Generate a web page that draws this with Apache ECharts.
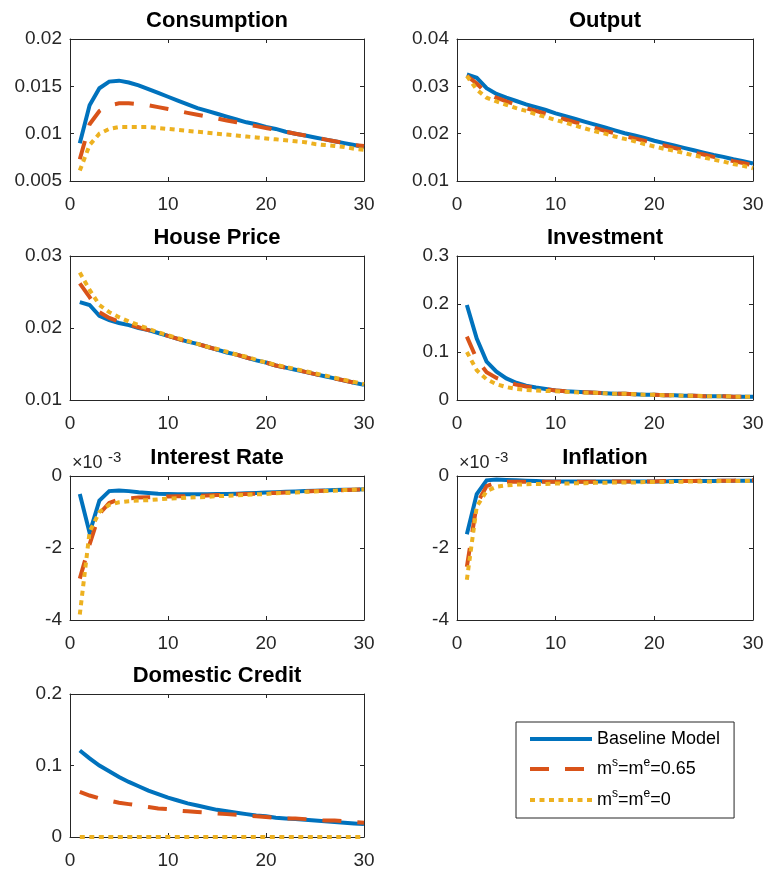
<!DOCTYPE html>
<html>
<head>
<meta charset="utf-8">
<script src="https://cdn.jsdelivr.net/npm/echarts@6/dist/echarts.min.js"></script>
<style>
html,body{margin:0;padding:0;background:#fff;}
#chart{width:767px;height:875px;}
</style>
</head>
<body>
<div id="chart"></div>
<script>
// ---------------- DATA ----------------
const periods = [1,2,3,4,5,6,7,8,9,10,11,12,13,14,15,16,17,18,19,20,21,22,23,24,25,26,27,28,29,30];
const seriesNames = ['Baseline Model', 'ms=me=0.65', 'ms=me=0'];

const consBase = [0.0090,0.0130,0.0148,0.0155,0.0156,0.0154,0.0151,0.0147,0.0143,0.0139,0.0135,0.0131,0.0127,0.0124,0.0121,0.0118,0.0115,0.0112,0.0110,0.0107,0.0105,0.0102,0.0100,0.0098,0.0096,0.0094,0.0092,0.0090,0.0088,0.0086];
const consM65  = [0.0073,0.0110,0.0124,0.0130,0.0132,0.0132,0.0131,0.0130,0.0128,0.0126,0.0124,0.0122,0.0120,0.0118,0.0116,0.0114,0.0112,0.0110,0.0108,0.0106,0.0104,0.0102,0.0100,0.0098,0.0096,0.0094,0.0092,0.0090,0.0088,0.0087];
const consM0   = [0.0061,0.0088,0.0100,0.0105,0.0107,0.0107,0.0107,0.0107,0.0106,0.0105,0.0104,0.0103,0.0102,0.0101,0.0100,0.0099,0.0098,0.0097,0.0096,0.0095,0.0094,0.0093,0.0092,0.0091,0.0089,0.0088,0.0087,0.0086,0.0084,0.0083];

const outBase = [0.0325,0.0318,0.0296,0.0284,0.0276,0.0269,0.0262,0.0256,0.0250,0.0243,0.0237,0.0231,0.0225,0.0219,0.0213,0.0207,0.0201,0.0196,0.0191,0.0185,0.0180,0.0175,0.0170,0.0165,0.0160,0.0155,0.0151,0.0146,0.0142,0.0137];
const outM65  = [0.0322,0.0306,0.0285,0.0276,0.0268,0.0261,0.0254,0.0248,0.0242,0.0236,0.0230,0.0224,0.0218,0.0212,0.0206,0.0201,0.0195,0.0190,0.0185,0.0180,0.0175,0.0170,0.0165,0.0160,0.0156,0.0151,0.0147,0.0142,0.0138,0.0133];
const outM0   = [0.0322,0.0293,0.0276,0.0268,0.0261,0.0254,0.0248,0.0241,0.0235,0.0229,0.0223,0.0217,0.0211,0.0205,0.0200,0.0194,0.0189,0.0184,0.0178,0.0173,0.0168,0.0164,0.0159,0.0154,0.0150,0.0145,0.0141,0.0136,0.0132,0.0127];

const houseBase = [0.0236,0.0232,0.0217,0.0211,0.0207,0.0204,0.0200,0.0197,0.0193,0.0189,0.0185,0.0181,0.0178,0.0174,0.0170,0.0166,0.0163,0.0159,0.0155,0.0152,0.0148,0.0145,0.0142,0.0139,0.0136,0.0133,0.0130,0.0127,0.0124,0.0121];
const houseM65  = [0.0262,0.0243,0.0222,0.0214,0.0209,0.0205,0.0201,0.0197,0.0193,0.0189,0.0185,0.0181,0.0178,0.0174,0.0170,0.0166,0.0163,0.0159,0.0155,0.0152,0.0148,0.0145,0.0142,0.0139,0.0136,0.0133,0.0130,0.0127,0.0124,0.0121];
const houseM0   = [0.0277,0.0253,0.0232,0.0222,0.0215,0.0209,0.0204,0.0199,0.0194,0.0190,0.0186,0.0182,0.0178,0.0174,0.0171,0.0167,0.0163,0.0160,0.0156,0.0152,0.0149,0.0146,0.0143,0.0140,0.0137,0.0134,0.0131,0.0128,0.0125,0.0122];

const invBase = [0.198,0.128,0.080,0.059,0.045,0.036,0.030,0.026,0.023,0.020,0.018,0.017,0.016,0.015,0.014,0.013,0.013,0.012,0.011,0.011,0.010,0.010,0.009,0.009,0.008,0.008,0.008,0.007,0.007,0.007];
const invM65  = [0.132,0.085,0.058,0.046,0.038,0.032,0.028,0.025,0.022,0.020,0.018,0.017,0.016,0.015,0.014,0.013,0.013,0.012,0.011,0.011,0.010,0.010,0.009,0.009,0.008,0.008,0.008,0.007,0.007,0.007];
const invM0   = [0.100,0.062,0.043,0.033,0.027,0.023,0.021,0.020,0.019,0.018,0.017,0.016,0.015,0.015,0.014,0.013,0.013,0.012,0.011,0.011,0.010,0.010,0.009,0.009,0.008,0.008,0.008,0.007,0.007,0.007];

// interest rate and inflation in units of 10^-3
const rateBase = [-0.50,-1.58,-0.68,-0.42,-0.40,-0.42,-0.45,-0.47,-0.49,-0.50,-0.51,-0.51,-0.51,-0.51,-0.50,-0.50,-0.49,-0.48,-0.47,-0.46,-0.45,-0.44,-0.43,-0.42,-0.41,-0.40,-0.39,-0.38,-0.38,-0.37];
const rateM65  = [-2.85,-1.90,-1.05,-0.75,-0.65,-0.62,-0.60,-0.59,-0.58,-0.57,-0.56,-0.56,-0.55,-0.54,-0.53,-0.52,-0.51,-0.50,-0.49,-0.48,-0.47,-0.46,-0.45,-0.43,-0.42,-0.41,-0.40,-0.39,-0.38,-0.37];
const rateM0   = [-3.85,-1.55,-1.00,-0.80,-0.73,-0.70,-0.68,-0.67,-0.65,-0.63,-0.62,-0.60,-0.59,-0.58,-0.56,-0.55,-0.54,-0.52,-0.51,-0.50,-0.48,-0.47,-0.46,-0.44,-0.43,-0.42,-0.41,-0.39,-0.38,-0.37];

const inflBase = [-1.62,-0.50,-0.12,-0.10,-0.11,-0.12,-0.13,-0.14,-0.15,-0.15,-0.15,-0.15,-0.15,-0.15,-0.15,-0.15,-0.15,-0.15,-0.15,-0.15,-0.15,-0.14,-0.14,-0.14,-0.14,-0.14,-0.13,-0.13,-0.13,-0.13];
const inflM65  = [-2.52,-0.78,-0.28,-0.18,-0.16,-0.16,-0.16,-0.16,-0.16,-0.16,-0.16,-0.16,-0.16,-0.16,-0.15,-0.15,-0.15,-0.15,-0.15,-0.15,-0.14,-0.14,-0.14,-0.14,-0.13,-0.13,-0.13,-0.13,-0.12,-0.12];
const inflM0   = [-2.88,-0.85,-0.42,-0.30,-0.26,-0.24,-0.23,-0.22,-0.22,-0.21,-0.21,-0.20,-0.20,-0.19,-0.19,-0.18,-0.18,-0.18,-0.17,-0.17,-0.17,-0.16,-0.16,-0.15,-0.15,-0.15,-0.14,-0.14,-0.14,-0.13];

const creditBase = [0.121,0.110,0.100,0.092,0.084,0.077,0.071,0.065,0.060,0.055,0.051,0.047,0.044,0.041,0.038,0.036,0.034,0.032,0.030,0.029,0.027,0.026,0.025,0.024,0.023,0.022,0.021,0.020,0.019,0.018];
const creditM65  = [0.063,0.058,0.054,0.051,0.048,0.046,0.044,0.042,0.040,0.039,0.037,0.036,0.035,0.034,0.033,0.032,0.031,0.030,0.029,0.028,0.027,0.026,0.026,0.025,0.024,0.023,0.023,0.022,0.021,0.020];
const creditM0   = [0,0,0,0,0,0,0,0,0,0,0,0,0,0,0,0,0,0,0,0,0,0,0,0,0,0,0,0,0,0];

const panelTitles = ['Consumption','Output','House Price','Investment','Interest Rate','Inflation','Domestic Credit'];
const panelSeries = [
  [consBase, consM65, consM0],
  [outBase, outM65, outM0],
  [houseBase, houseM65, houseM0],
  [invBase, invM65, invM0],
  [rateBase, rateM65, rateM0],
  [inflBase, inflM65, inflM0],
  [creditBase, creditM65, creditM0]
];
const yMin = [0.005, 0.01, 0.01, 0, -4, -4, 0];
const yMax = [0.02, 0.04, 0.03, 0.3, 0, 0, 0.2];
const yStep = [0.005, 0.01, 0.01, 0.1, 2, 2, 0.1];
const xMin = 0, xMax = 30, xStep = 10;

// ---------------- LAYOUT / STYLE ----------------
const FONT = "'Liberation Sans', Arial, Helvetica, sans-serif";
const AX = '#262626';
const colors = ['#0072BD', '#D95319', '#EDB120'];
const lineTypes = ['solid', [19, 16], [5, 4.5]];
const colLeft = [70, 457], colWidth = [294, 296];
const rowTop = [39, 256, 476, 694], rowHeight = [142, 144, 144, 143];

const grids = [], xAxes = [], yAxes = [], series = [], titles = [], graphics = [];
panelTitles.forEach((t, i) => {
  const c = i % 2, r = Math.floor(i / 2);
  grids.push({left: colLeft[c], top: rowTop[r], width: colWidth[c], height: rowHeight[r],
    containLabel: false, outerBoundsMode: 'none', show: false});
  const tick = {show: true, inside: true, length: 4, lineStyle: {color: AX, width: 1}};
  const line = {show: true, onZero: false, lineStyle: {color: AX, width: 1}};
  xAxes.push({gridIndex: i, type: 'value', position: 'bottom', min: xMin, max: xMax, interval: xStep,
    axisLine: line, axisTick: tick, splitLine: {show: false},
    axisLabel: {color: AX, fontSize: 19, fontFamily: FONT, margin: 14}});
  xAxes.push({gridIndex: i, type: 'value', position: 'top', min: xMin, max: xMax, interval: xStep,
    axisLine: line, axisTick: tick, splitLine: {show: false}, axisLabel: {show: false}});
  yAxes.push({gridIndex: i, type: 'value', position: 'left', min: yMin[i], max: yMax[i], interval: yStep[i],
    axisLine: line, axisTick: tick, splitLine: {show: false},
    axisLabel: {color: AX, fontSize: 19, fontFamily: FONT, margin: 8, padding: [4, 0, 0, 0]}});
  yAxes.push({gridIndex: i, type: 'value', position: 'right', min: yMin[i], max: yMax[i], interval: yStep[i],
    axisLine: line, axisTick: tick, splitLine: {show: false}, axisLabel: {show: false}});
  panelSeries[i].forEach((vals, k) => {
    series.push({
      name: seriesNames[k], type: 'line', xAxisIndex: 2 * i, yAxisIndex: 2 * i,
      data: periods.map((p, j) => [p, vals[j]]),
      symbol: 'none', showSymbol: false, clip: false, silent: true, animation: false,
      color: colors[k],
      lineStyle: {color: colors[k], width: 4, type: lineTypes[k], cap: 'butt', join: 'miter'}
    });
  });
  titles.push({text: t, left: colLeft[c] + colWidth[c] / 2, top: rowTop[r] - 29, textAlign: 'center',
    padding: 0,
    textStyle: {fontSize: 22, fontWeight: 'bold', color: '#000', fontFamily: FONT}});
  if (i === 4 || i === 5) {
    graphics.push({type: 'text', left: colLeft[c] + 2, top: rowTop[r] - 22,
      style: {text: '\u00d710', fontSize: 18, fontFamily: FONT, fill: AX}});
    graphics.push({type: 'text', left: colLeft[c] + 38, top: rowTop[r] - 26,
      style: {text: '-3', fontSize: 15, fontFamily: FONT, fill: AX}});
  }
});

const legendLabels = {
  'Baseline Model': 'Baseline Model',
  'ms=me=0.65': 'm{s|s}=m{s|e}=0.65',
  'ms=me=0': 'm{s|s}=m{s|e}=0'
};

const option = {
  animation: false,
  backgroundColor: '#fff',
  title: titles,
  grid: grids,
  xAxis: xAxes,
  yAxis: yAxes,
  series: series,
  graphic: graphics,
  legend: {
    orient: 'vertical', left: 516, top: 722,
    padding: [6, 14, 6, 12], itemGap: 7, itemWidth: 62, itemHeight: 14,
    borderColor: AX, borderWidth: 1, backgroundColor: '#fff',
    selectedMode: false,
    data: seriesNames,
    itemStyle: {opacity: 0},
    lineStyle: {width: 4, cap: 'butt'},
    formatter: n => legendLabels[n],
    textStyle: {fontSize: 18, fontFamily: FONT, color: '#000', lineHeight: 22,
      rich: {s: {fontSize: 12, fontFamily: FONT, color: '#000', lineHeight: 22, padding: [0, 0, 12, 0]}}}
  }
};

const chart = echarts.init(document.getElementById('chart'), null, {renderer: 'canvas'});
chart.setOption(option);
</script>
</body>
</html>
